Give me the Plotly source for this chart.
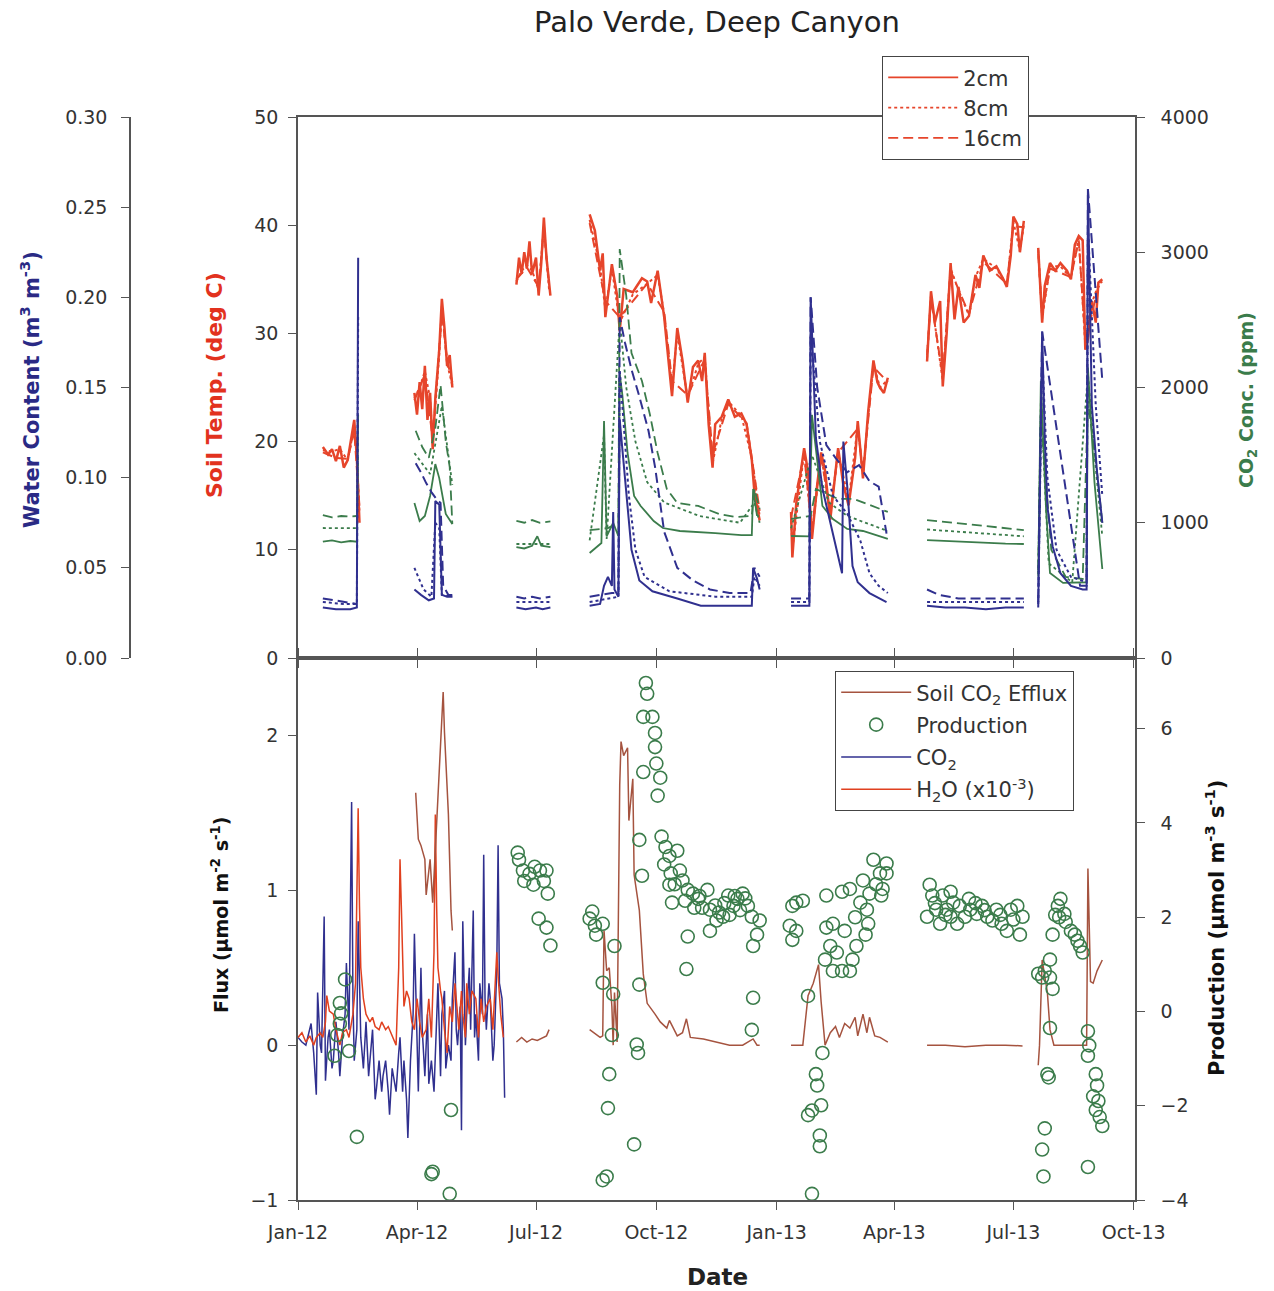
import plotly.graph_objects as go

FONT = "DejaVu Sans, Liberation Sans, Arial, sans-serif"
RED = "#e6452b"
BLUE = "#30308f"
GREEN = "#3b7c4b"
BROWN = "#a5533f"
H2O_RED = "#e0401f"
AXIS = "#555555"
TXT = "#333333"

x_ticks = ["2012-01-01", "2012-04-01", "2012-07-01", "2012-10-01",
           "2013-01-01", "2013-04-01", "2013-07-01", "2013-10-01"]
x_labels = ["Jan-12", "Apr-12", "Jul-12", "Oct-12", "Jan-13", "Apr-13", "Jul-13", "Oct-13"]

# ---------------- Soil temperature (deg C) ----------------
temp_2cm = [
    ("2012-01-20", 19.5), ("2012-01-24", 18.8), ("2012-01-27", 19.3), ("2012-01-30", 18.2), ("2012-02-02", 19.6),
    ("2012-02-05", 17.6), ("2012-02-08", 18.3), ("2012-02-11", 20.6), ("2012-02-13", 22.0), ("2012-02-15", 18.5),
    ("2012-02-16", 14.5), ("2012-02-17", 12.5), (None, None),
    ("2012-03-30", 24.5), ("2012-04-01", 22.5), ("2012-04-03", 25.5), ("2012-04-05", 23.0), ("2012-04-07", 27.0),
    ("2012-04-09", 22.0), ("2012-04-11", 24.5), ("2012-04-13", 19.3), ("2012-04-15", 24.0), ("2012-04-18", 28.5),
    ("2012-04-20", 33.2), ("2012-04-22", 30.5), ("2012-04-24", 27.0), ("2012-04-26", 28.0), ("2012-04-28", 25.0), (None, None),
    ("2012-06-16", 34.5), ("2012-06-18", 37.0), ("2012-06-20", 35.5), ("2012-06-22", 37.5), ("2012-06-24", 36.0),
    ("2012-06-26", 38.5), ("2012-06-28", 35.5), ("2012-07-01", 37.0), ("2012-07-03", 33.5), ("2012-07-05", 36.5),
    ("2012-07-07", 40.7), ("2012-07-09", 37.0), ("2012-07-12", 33.5), (None, None),
    ("2012-08-11", 41.0), ("2012-08-15", 39.5), ("2012-08-19", 35.8), ("2012-08-21", 37.4), ("2012-08-23", 31.5),
    ("2012-08-28", 36.4), ("2012-09-01", 33.5), ("2012-09-03", 30.2), ("2012-09-06", 34.1), ("2012-09-13", 33.8),
    ("2012-09-20", 35.1), ("2012-09-24", 34.8), ("2012-09-27", 32.8), ("2012-10-02", 35.8), ("2012-10-07", 31.5),
    ("2012-10-13", 24.2), ("2012-10-17", 30.5), ("2012-10-21", 27.5), ("2012-10-25", 23.6), ("2012-10-29", 26.9),
    ("2012-11-02", 27.5), ("2012-11-05", 25.6), ("2012-11-07", 28.2), ("2012-11-10", 21.6), ("2012-11-13", 17.6),
    ("2012-11-15", 21.6), ("2012-11-20", 22.3), ("2012-11-25", 23.9), ("2012-11-30", 22.3), ("2012-12-05", 22.6),
    ("2012-12-09", 21.6), ("2012-12-13", 18.3), ("2012-12-15", 15.3), ("2012-12-19", 12.7), (None, None),
    ("2013-01-12", 13.5), ("2013-01-13", 9.3), ("2013-01-16", 14.3), ("2013-01-22", 19.4), ("2013-01-25", 17.2),
    ("2013-01-28", 11.0), ("2013-02-01", 16.0), ("2013-02-04", 19.0), ("2013-02-07", 17.3), ("2013-02-11", 12.8),
    ("2013-02-17", 19.4), ("2013-02-21", 16.0), ("2013-02-25", 14.1), ("2013-03-02", 18.5), ("2013-03-04", 21.9),
    ("2013-03-08", 16.6), ("2013-03-12", 22.8), ("2013-03-16", 27.5), ("2013-03-19", 25.5), ("2013-03-21", 25.0),
    ("2013-03-24", 24.5), ("2013-03-27", 25.9), (None, None),
    ("2013-04-26", 27.4), ("2013-04-29", 33.9), ("2013-05-02", 31.0), ("2013-05-06", 33.0), ("2013-05-08", 25.1),
    ("2013-05-11", 30.0), ("2013-05-14", 36.5), ("2013-05-17", 31.3), ("2013-05-20", 34.3), ("2013-05-24", 31.0),
    ("2013-05-28", 31.6), ("2013-06-02", 35.4), ("2013-06-05", 34.2), ("2013-06-08", 37.2), ("2013-06-13", 35.8),
    ("2013-06-18", 36.2), ("2013-06-23", 35.1), ("2013-06-26", 34.3), ("2013-06-29", 37.2), ("2013-07-01", 40.8),
    ("2013-07-04", 40.1), ("2013-07-06", 37.5), ("2013-07-09", 40.4), (None, None),
    ("2013-07-20", 37.9), ("2013-07-23", 31.0), ("2013-07-25", 34.4), ("2013-07-29", 36.5), ("2013-08-02", 35.8),
    ("2013-08-06", 36.5), ("2013-08-11", 35.8), ("2013-08-14", 35.0), ("2013-08-17", 38.2), ("2013-08-20", 39.0),
    ("2013-08-23", 38.6), ("2013-08-25", 28.5), ("2013-08-27", 29.5), ("2013-08-30", 33.0), ("2013-09-02", 31.0),
    ("2013-09-04", 34.7), ("2013-09-07", 35.0),
]
temp_8cm = [
    ("2012-01-20", 19.2), ("2012-01-27", 19.1), ("2012-02-02", 19.3), ("2012-02-08", 18.3), ("2012-02-13", 21.3),
    ("2012-02-15", 18.6), ("2012-02-17", 13.5), (None, None),
    ("2012-03-30", 24.0), ("2012-04-03", 25.0), ("2012-04-07", 26.5), ("2012-04-11", 24.0), ("2012-04-13", 20.0),
    ("2012-04-18", 28.0), ("2012-04-20", 32.5), ("2012-04-24", 27.2), ("2012-04-28", 25.2), (None, None),
    ("2012-06-16", 34.8), ("2012-06-20", 35.8), ("2012-06-24", 36.3), ("2012-06-28", 35.8), ("2012-07-03", 34.0),
    ("2012-07-07", 40.0), ("2012-07-11", 34.0), (None, None),
    ("2012-08-11", 40.5), ("2012-08-19", 36.2), ("2012-08-23", 32.2), ("2012-08-28", 36.0), ("2012-09-03", 31.0),
    ("2012-09-13", 33.6), ("2012-09-24", 34.6), ("2012-10-02", 35.4), ("2012-10-07", 31.8), ("2012-10-13", 25.0),
    ("2012-10-17", 30.0), ("2012-10-25", 24.0), ("2012-11-02", 27.2), ("2012-11-07", 27.8), ("2012-11-13", 18.0),
    ("2012-11-20", 22.1), ("2012-11-25", 23.7), ("2012-12-05", 22.4), ("2012-12-13", 18.5), ("2012-12-19", 13.1), (None, None),
    ("2013-01-12", 13.2), ("2013-01-13", 10.0), ("2013-01-22", 19.0), ("2013-01-28", 11.5), ("2013-02-04", 18.8),
    ("2013-02-11", 13.2), ("2013-02-17", 19.1), ("2013-02-25", 14.5), ("2013-03-04", 21.5), ("2013-03-08", 16.9),
    ("2013-03-12", 22.4), ("2013-03-16", 27.2), ("2013-03-21", 25.0), ("2013-03-27", 25.7), (None, None),
    ("2013-04-26", 27.7), ("2013-04-29", 33.5), ("2013-05-08", 25.6), ("2013-05-14", 36.0), ("2013-05-20", 34.0),
    ("2013-05-28", 31.7), ("2013-06-02", 35.2), ("2013-06-08", 36.9), ("2013-06-18", 36.0), ("2013-06-26", 34.5),
    ("2013-07-01", 40.3), ("2013-07-06", 37.6), ("2013-07-09", 40.0), (None, None),
    ("2013-07-20", 37.7), ("2013-07-23", 31.4), ("2013-07-29", 36.2), ("2013-08-06", 36.2), ("2013-08-14", 35.1),
    ("2013-08-20", 38.8), ("2013-08-25", 28.9), ("2013-08-30", 32.8), ("2013-09-04", 34.5), ("2013-09-07", 34.8),
]
temp_16cm = [
    ("2012-01-20", 19.0), ("2012-01-30", 18.5), ("2012-02-08", 18.4), ("2012-02-13", 21.0), ("2012-02-17", 14.0), (None, None),
    ("2012-03-30", 23.8), ("2012-04-07", 26.2), ("2012-04-13", 20.2), ("2012-04-20", 32.0), ("2012-04-24", 27.5),
    ("2012-04-28", 25.5), (None, None),
    ("2012-06-16", 35.0), ("2012-06-24", 36.1), ("2012-07-03", 34.3), ("2012-07-07", 39.6), ("2012-07-11", 34.5), (None, None),
    ("2012-08-11", 40.2), ("2012-08-23", 33.0), ("2012-09-03", 31.5), ("2012-09-24", 34.6), ("2012-10-07", 32.0),
    ("2012-10-13", 25.6), ("2012-10-25", 24.3), ("2012-11-07", 27.6), ("2012-11-13", 18.8), ("2012-11-25", 23.5),
    ("2012-12-09", 21.7), ("2012-12-19", 13.6), (None, None),
    ("2013-01-12", 13.0), ("2013-01-22", 18.8), ("2013-01-28", 12.0), ("2013-02-04", 18.6), ("2013-02-11", 13.5),
    ("2013-02-17", 19.0), ("2013-03-04", 21.2), ("2013-03-08", 17.2), ("2013-03-16", 26.9), ("2013-03-27", 25.5), (None, None),
    ("2013-04-26", 28.0), ("2013-04-29", 33.2), ("2013-05-08", 26.0), ("2013-05-14", 35.8), ("2013-05-28", 31.8),
    ("2013-06-08", 36.6), ("2013-06-26", 34.6), ("2013-07-01", 39.9), ("2013-07-09", 39.8), (None, None),
    ("2013-07-20", 37.4), ("2013-07-23", 31.8), ("2013-07-29", 36.0), ("2013-08-14", 35.2), ("2013-08-20", 38.6),
    ("2013-08-25", 29.3), ("2013-09-04", 34.3), ("2013-09-07", 34.6),
]

# ---------------- Water content (m3 m-3) ----------------
wc_2cm = [
    ("2012-01-20", 0.028), ("2012-01-30", 0.027), ("2012-02-10", 0.027), ("2012-02-15", 0.028), ("2012-02-16", 0.222), (None, None),
    ("2012-03-30", 0.038), ("2012-04-04", 0.035), ("2012-04-10", 0.032), ("2012-04-14", 0.033), ("2012-04-15", 0.087),
    ("2012-04-18", 0.085), ("2012-04-20", 0.035), ("2012-04-24", 0.034), ("2012-04-28", 0.034), (None, None),
    ("2012-06-16", 0.028), ("2012-06-23", 0.027), ("2012-07-01", 0.028), ("2012-07-06", 0.027), ("2012-07-12", 0.028), (None, None),
    ("2012-08-11", 0.029), ("2012-08-19", 0.030), ("2012-08-22", 0.040), ("2012-08-25", 0.045), ("2012-08-28", 0.040),
    ("2012-08-29", 0.081), ("2012-08-30", 0.038), ("2012-09-02", 0.034), ("2012-09-03", 0.132), ("2012-09-05", 0.116),
    ("2012-09-09", 0.086), ("2012-09-12", 0.060), ("2012-09-18", 0.043), ("2012-09-28", 0.037), ("2012-10-17", 0.033),
    ("2012-11-04", 0.029), ("2012-12-01", 0.029), ("2012-12-13", 0.029), ("2012-12-14", 0.050), ("2012-12-17", 0.044),
    ("2012-12-19", 0.038), (None, None),
    ("2013-01-12", 0.029), ("2013-01-26", 0.029), ("2013-01-27", 0.200), ("2013-01-31", 0.122), ("2013-02-05", 0.094),
    ("2013-02-13", 0.069), ("2013-02-20", 0.047), ("2013-02-21", 0.120), ("2013-02-24", 0.095), ("2013-02-28", 0.051),
    ("2013-03-04", 0.042), ("2013-03-13", 0.036), ("2013-03-26", 0.031), (None, None),
    ("2013-04-26", 0.029), ("2013-05-10", 0.028), ("2013-05-25", 0.028), ("2013-06-10", 0.027), ("2013-06-25", 0.028),
    ("2013-07-09", 0.028), (None, None),
    ("2013-07-20", 0.028), ("2013-07-23", 0.181), ("2013-07-25", 0.122), ("2013-07-27", 0.084), ("2013-07-31", 0.062),
    ("2013-08-06", 0.047), ("2013-08-14", 0.040), ("2013-08-23", 0.038), ("2013-08-26", 0.038), ("2013-08-27", 0.260),
    ("2013-08-30", 0.140), ("2013-09-03", 0.103), ("2013-09-07", 0.075),
]
wc_8cm = [
    ("2012-01-20", 0.031), ("2012-02-05", 0.030), ("2012-02-15", 0.030), ("2012-02-16", 0.190), (None, None),
    ("2012-03-30", 0.050), ("2012-04-02", 0.045), ("2012-04-06", 0.038), ("2012-04-12", 0.034), ("2012-04-15", 0.075),
    ("2012-04-18", 0.072), ("2012-04-20", 0.035), ("2012-04-28", 0.034), (None, None),
    ("2012-06-16", 0.031), ("2012-07-12", 0.031), (None, None),
    ("2012-08-11", 0.031), ("2012-09-02", 0.034), ("2012-09-03", 0.160), ("2012-09-06", 0.130), ("2012-09-10", 0.090),
    ("2012-09-15", 0.060), ("2012-09-22", 0.045), ("2012-10-11", 0.037), ("2012-11-15", 0.034), ("2012-12-13", 0.034),
    ("2012-12-15", 0.045), ("2012-12-19", 0.040), (None, None),
    ("2013-01-12", 0.031), ("2013-01-26", 0.031), ("2013-01-27", 0.180), ("2013-02-03", 0.120), ("2013-02-13", 0.090),
    ("2013-02-24", 0.080), ("2013-03-06", 0.065), ("2013-03-13", 0.047), ("2013-03-20", 0.040), ("2013-03-27", 0.036), (None, None),
    ("2013-04-26", 0.031), ("2013-07-09", 0.031), (None, None),
    ("2013-07-20", 0.030), ("2013-07-23", 0.170), ("2013-07-27", 0.100), ("2013-08-03", 0.060), ("2013-08-14", 0.045),
    ("2013-08-26", 0.042), ("2013-08-27", 0.240), ("2013-09-02", 0.140), ("2013-09-07", 0.090),
]
wc_16cm = [
    ("2012-01-20", 0.033), ("2012-01-28", 0.032), ("2012-02-06", 0.031), ("2012-02-15", 0.030), (None, None),
    ("2012-03-31", 0.108), ("2012-04-04", 0.103), ("2012-04-08", 0.097), ("2012-04-12", 0.092), ("2012-04-16", 0.088),
    ("2012-04-19", 0.086), ("2012-04-21", 0.040), ("2012-04-25", 0.035), ("2012-04-28", 0.035), (None, None),
    ("2012-06-16", 0.034), ("2012-06-22", 0.033), ("2012-06-28", 0.034), ("2012-07-04", 0.033), ("2012-07-12", 0.034), (None, None),
    ("2012-08-11", 0.034), ("2012-08-28", 0.036), ("2012-09-02", 0.036), ("2012-09-03", 0.189), ("2012-09-07", 0.175),
    ("2012-09-12", 0.160), ("2012-09-18", 0.145), ("2012-09-25", 0.126), ("2012-09-30", 0.106), ("2012-10-07", 0.070),
    ("2012-10-17", 0.050), ("2012-10-29", 0.043), ("2012-11-11", 0.038), ("2012-11-26", 0.036), ("2012-12-12", 0.036),
    ("2012-12-15", 0.050), ("2012-12-19", 0.045), (None, None),
    ("2013-01-12", 0.033), ("2013-01-26", 0.033), ("2013-01-27", 0.200), ("2013-02-01", 0.150), ("2013-02-08", 0.118),
    ("2013-02-15", 0.111), ("2013-02-24", 0.103), ("2013-03-05", 0.107), ("2013-03-13", 0.098), ("2013-03-20", 0.095),
    ("2013-03-26", 0.069), (None, None),
    ("2013-04-26", 0.038), ("2013-05-05", 0.035), ("2013-05-20", 0.033), ("2013-06-10", 0.033), ("2013-06-25", 0.033),
    ("2013-07-09", 0.033), (None, None),
    ("2013-07-20", 0.031), ("2013-07-23", 0.181), ("2013-08-21", 0.040), ("2013-08-26", 0.040), ("2013-08-27", 0.260),
    ("2013-09-07", 0.154),
]

# ---------------- Soil CO2 concentration (ppm) ----------------
co2c_2cm = [
    ("2012-01-20", 860), ("2012-01-27", 870), ("2012-02-03", 855), ("2012-02-10", 865), ("2012-02-15", 860),
    ("2012-02-16", 1800), (None, None),
    ("2012-03-30", 1146), ("2012-04-03", 1013), ("2012-04-07", 1050), ("2012-04-11", 1198), ("2012-04-15", 1434),
    ("2012-04-18", 1330), ("2012-04-23", 1065), ("2012-04-28", 990), (None, None),
    ("2012-06-16", 820), ("2012-06-22", 810), ("2012-06-28", 830), ("2012-07-02", 900), ("2012-07-05", 830),
    ("2012-07-12", 820), (None, None),
    ("2012-08-11", 776), ("2012-08-20", 850), ("2012-08-22", 1752), ("2012-08-24", 900), ("2012-08-29", 1000),
    ("2012-09-02", 900), ("2012-09-03", 2100), ("2012-09-05", 1946), ("2012-09-09", 1516), ("2012-09-14", 1198),
    ("2012-09-19", 1124), ("2012-09-29", 1013), ("2012-10-06", 961), ("2012-10-19", 939), ("2012-11-15", 924),
    ("2012-12-05", 909), ("2012-12-13", 909), ("2012-12-14", 1250), ("2012-12-17", 1050), (None, None),
    ("2013-01-12", 902), ("2013-01-26", 900), ("2013-01-28", 1797), ("2013-02-05", 1124), ("2013-02-13", 1028),
    ("2013-02-24", 954), ("2013-03-08", 939), ("2013-03-27", 880), (None, None),
    ("2013-04-26", 872), ("2013-05-10", 865), ("2013-05-25", 860), ("2013-06-10", 850), ("2013-06-25", 845),
    ("2013-07-09", 843), (None, None),
    ("2013-07-20", 600), ("2013-07-22", 2050), ("2013-07-26", 1100), ("2013-07-29", 628), ("2013-08-08", 555),
    ("2013-08-23", 555), ("2013-08-26", 560), ("2013-08-27", 2150), ("2013-09-01", 1300), ("2013-09-07", 658),
]
co2c_8cm = [
    ("2012-01-20", 961), ("2012-02-15", 960), ("2012-02-16", 1500), (None, None),
    ("2012-03-30", 1515), ("2012-04-11", 1360), ("2012-04-20", 1863), ("2012-04-28", 1280), (None, None),
    ("2012-06-16", 843), ("2012-07-12", 843), (None, None),
    ("2012-08-11", 870), ("2012-08-22", 1650), ("2012-08-24", 880), ("2012-09-03", 2500), ("2012-09-08", 2000),
    ("2012-09-15", 1600), ("2012-09-24", 1300), ("2012-10-07", 1150), ("2012-11-03", 1050), ("2012-12-04", 1000),
    ("2012-12-15", 1150), ("2012-12-19", 1000), (None, None),
    ("2013-01-12", 960), ("2013-01-28", 1500), ("2013-02-10", 1150), ("2013-02-24", 1050), ("2013-03-27", 939), (None, None),
    ("2013-04-26", 950), ("2013-07-09", 900), (None, None),
    ("2013-07-20", 620), ("2013-07-22", 1900), ("2013-07-28", 700), ("2013-08-15", 560), ("2013-08-27", 2100),
    ("2013-09-02", 1400), ("2013-09-07", 900),
]
co2c_16cm = [
    ("2012-01-20", 1057), ("2012-01-27", 1040), ("2012-02-03", 1050), ("2012-02-10", 1045), ("2012-02-15", 1050), (None, None),
    ("2012-03-31", 1680), ("2012-04-05", 1560), ("2012-04-10", 1480), ("2012-04-15", 1700), ("2012-04-19", 2018),
    ("2012-04-23", 1600), ("2012-04-26", 1412), ("2012-04-28", 990), (None, None),
    ("2012-06-16", 1013), ("2012-06-22", 1000), ("2012-06-28", 1020), ("2012-07-04", 1000), ("2012-07-12", 1010), (None, None),
    ("2012-08-11", 946), ("2012-08-25", 960), ("2012-09-02", 1000), ("2012-09-03", 3024), ("2012-09-08", 2677),
    ("2012-09-12", 2255), ("2012-09-20", 2048), ("2012-09-26", 1804), ("2012-10-02", 1516), ("2012-10-09", 1250),
    ("2012-10-17", 1146), ("2012-11-02", 1124), ("2012-11-18", 1065), ("2012-12-01", 1042), ("2012-12-13", 1050),
    ("2012-12-15", 1250), ("2012-12-19", 1100), (None, None),
    ("2013-01-12", 1028), ("2013-01-27", 1050), ("2013-01-31", 1250), ("2013-02-17", 1176), ("2013-03-01", 1176),
    ("2013-03-13", 1130), ("2013-03-27", 1080), (None, None),
    ("2013-04-26", 1020), ("2013-05-15", 1000), ("2013-06-05", 980), ("2013-06-25", 960), ("2013-07-09", 946), (None, None),
    ("2013-07-20", 650), ("2013-07-22", 1800), ("2013-07-30", 800), ("2013-08-10", 600), ("2013-08-23", 584),
    ("2013-08-27", 1900), ("2013-09-03", 1375), ("2013-09-07", 1000),
]

# ---------------- Bottom panel: fluxes (umol m-2 s-1) ----------------
co2_flux = [
    ("2012-01-01", 0.05), ("2012-01-04", 0.02), ("2012-01-07", 0.0), ("2012-01-09", 0.08), ("2012-01-11", 0.14),
    ("2012-01-13", -0.05), ("2012-01-15", -0.32), ("2012-01-16", 0.34), ("2012-01-18", 0.0), ("2012-01-19", -0.05),
    ("2012-01-21", 0.83), ("2012-01-22", -0.23), ("2012-01-24", 0.05), ("2012-01-25", 0.1), ("2012-01-27", -0.15),
    ("2012-01-28", -0.1), ("2012-01-30", 0.15), ("2012-02-01", -0.05), ("2012-02-02", -0.2), ("2012-02-04", 0.05),
    ("2012-02-06", 0.2), ("2012-02-07", 0.53), ("2012-02-09", 0.1), ("2012-02-11", 1.57), ("2012-02-12", 0.3),
    ("2012-02-13", -0.1), ("2012-02-15", 0.1), ("2012-02-16", 0.8), ("2012-02-18", 0.05), ("2012-02-20", -0.15),
    ("2012-02-22", 0.15), ("2012-02-24", -0.2), ("2012-02-25", -0.1), ("2012-02-27", 0.1), ("2012-02-29", -0.35),
    ("2012-03-01", -0.28), ("2012-03-03", -0.1), ("2012-03-05", -0.3), ("2012-03-06", -0.2), ("2012-03-08", -0.1),
    ("2012-03-10", -0.3), ("2012-03-11", -0.45), ("2012-03-13", -0.15), ("2012-03-14", -0.2), ("2012-03-16", -0.3),
    ("2012-03-18", -0.05), ("2012-03-19", 0.05), ("2012-03-21", -0.3), ("2012-03-22", -0.1), ("2012-03-24", -0.35),
    ("2012-03-25", -0.6), ("2012-03-27", -0.1), ("2012-03-29", 0.2), ("2012-03-30", 0.72), ("2012-04-01", 0.0),
    ("2012-04-02", -0.3), ("2012-04-04", 0.5), ("2012-04-05", 0.1), ("2012-04-07", -0.2), ("2012-04-09", 0.2),
    ("2012-04-10", -0.25), ("2012-04-12", -0.1), ("2012-04-14", -0.3), ("2012-04-16", 0.1), ("2012-04-17", 0.4),
    ("2012-04-19", -0.2), ("2012-04-20", 0.2), ("2012-04-22", 0.35), ("2012-04-23", -0.15), ("2012-04-25", 0.0),
    ("2012-04-27", -0.1), ("2012-04-28", 0.3), ("2012-04-30", 0.6), ("2012-05-01", 0.1), ("2012-05-02", 0.0),
    ("2012-05-04", 0.25), ("2012-05-05", -0.55), ("2012-05-06", 0.8), ("2012-05-08", 0.0), ("2012-05-09", 0.2),
    ("2012-05-11", 0.5), ("2012-05-12", 0.1), ("2012-05-14", 0.87), ("2012-05-15", 0.05), ("2012-05-16", 0.2),
    ("2012-05-18", -0.1), ("2012-05-19", 0.4), ("2012-05-21", 0.2), ("2012-05-22", 1.23), ("2012-05-23", 0.3),
    ("2012-05-24", 0.1), ("2012-05-26", 0.4), ("2012-05-27", 0.3), ("2012-05-29", -0.1), ("2012-05-30", 0.0),
    ("2012-06-01", 0.5), ("2012-06-02", 1.29), ("2012-06-03", 0.4), ("2012-06-05", 0.3), ("2012-06-06", 0.1),
    ("2012-06-07", -0.34),
]
h2o_flux = [
    ("2012-01-01", 0.05), ("2012-01-04", 0.08), ("2012-01-07", 0.02), ("2012-01-10", 0.06), ("2012-01-13", 0.0),
    ("2012-01-15", 0.05), ("2012-01-18", 0.08), ("2012-01-20", 0.05), ("2012-01-22", 0.15), ("2012-01-23", 0.32),
    ("2012-01-25", 0.22), ("2012-01-28", 0.2), ("2012-01-30", 0.1), ("2012-02-02", 0.0), ("2012-02-04", 0.08),
    ("2012-02-07", 0.1), ("2012-02-09", 0.05), ("2012-02-12", 0.2), ("2012-02-14", 0.4), ("2012-02-15", 0.9),
    ("2012-02-16", 1.53), ("2012-02-17", 0.9), ("2012-02-18", 0.5), ("2012-02-20", 0.3), ("2012-02-22", 0.2),
    ("2012-02-25", 0.15), ("2012-02-27", 0.18), ("2012-02-29", 0.12), ("2012-03-03", 0.1), ("2012-03-05", 0.15),
    ("2012-03-08", 0.1), ("2012-03-10", 0.12), ("2012-03-12", 0.08), ("2012-03-14", 0.05), ("2012-03-16", 0.0),
    ("2012-03-18", 0.5), ("2012-03-19", 1.2), ("2012-03-20", 0.9), ("2012-03-22", 0.25), ("2012-03-24", 0.35),
    ("2012-03-26", 0.3), ("2012-03-28", 0.15), ("2012-03-30", 0.1), ("2012-04-01", 0.3), ("2012-04-03", 0.15),
    ("2012-04-05", 0.05), ("2012-04-08", 0.1), ("2012-04-10", 0.3), ("2012-04-12", 0.05), ("2012-04-14", 0.6),
    ("2012-04-15", 1.49), ("2012-04-16", 0.9), ("2012-04-17", 0.5), ("2012-04-19", 0.35), ("2012-04-20", 0.3),
    ("2012-04-22", 0.1), ("2012-04-24", -0.05), ("2012-04-26", 0.25), ("2012-04-28", 0.15), ("2012-04-30", 0.4),
    ("2012-05-01", 0.3), ("2012-05-03", 0.1), ("2012-05-05", 0.35), ("2012-05-06", 0.2), ("2012-05-08", 0.05),
    ("2012-05-09", 0.4), ("2012-05-11", 0.2), ("2012-05-13", 0.35), ("2012-05-16", 0.3), ("2012-05-18", 0.05),
    ("2012-05-20", 0.3), ("2012-05-22", 0.15), ("2012-05-24", 0.25), ("2012-05-27", 0.3), ("2012-05-29", 0.1),
    ("2012-06-01", 0.6), ("2012-06-02", 0.45), ("2012-06-04", 0.2), ("2012-06-06", 0.05),
]
soil_efflux = [
    ("2012-03-31", 1.63), ("2012-04-02", 1.33), ("2012-04-04", 1.29), ("2012-04-07", 1.2), ("2012-04-08", 0.97),
    ("2012-04-11", 1.2), ("2012-04-13", 0.92), ("2012-04-16", 1.45), ("2012-04-18", 1.79), ("2012-04-21", 2.28),
    ("2012-04-22", 2.02), ("2012-04-25", 1.49), ("2012-04-27", 0.87), ("2012-04-28", 0.74), (None, None),
    ("2012-06-16", 0.02), ("2012-06-20", 0.05), ("2012-06-24", 0.02), ("2012-06-28", 0.04), ("2012-07-02", 0.03),
    ("2012-07-06", 0.05), ("2012-07-09", 0.06), ("2012-07-11", 0.1), (None, None),
    ("2012-08-11", 0.1), ("2012-08-19", 0.05), ("2012-08-21", 0.06), ("2012-08-22", 0.74), ("2012-08-24", 0.48),
    ("2012-08-26", 0.5), ("2012-08-28", 0.25), ("2012-08-29", 0.0), ("2012-08-30", 0.34), ("2012-09-01", 0.02),
    ("2012-09-03", 1.68), ("2012-09-04", 1.96), ("2012-09-06", 1.87), ("2012-09-09", 1.92), ("2012-09-10", 1.45),
    ("2012-09-13", 1.72), ("2012-09-14", 1.1), ("2012-09-18", 0.87), ("2012-09-21", 0.46), ("2012-09-24", 0.27),
    ("2012-09-30", 0.2), ("2012-10-04", 0.15), ("2012-10-09", 0.11), ("2012-10-11", 0.16), ("2012-10-17", 0.06),
    ("2012-10-21", 0.08), ("2012-10-24", 0.17), ("2012-10-27", 0.05), ("2012-11-06", 0.04), ("2012-11-16", 0.02),
    ("2012-11-26", 0.0), ("2012-12-06", 0.0), ("2012-12-14", 0.04), ("2012-12-17", 0.0), ("2012-12-19", 0.0), (None, None),
    ("2013-01-12", 0.0), ("2013-01-21", 0.0), ("2013-01-25", 0.32), ("2013-01-29", 0.4), ("2013-02-02", 0.52),
    ("2013-02-04", 0.28), ("2013-02-07", 0.0), ("2013-02-11", 0.08), ("2013-02-15", 0.12), ("2013-02-18", 0.05),
    ("2013-02-22", 0.14), ("2013-02-26", 0.11), ("2013-03-02", 0.18), ("2013-03-04", 0.06), ("2013-03-08", 0.2),
    ("2013-03-11", 0.08), ("2013-03-13", 0.18), ("2013-03-17", 0.06), ("2013-03-21", 0.05), ("2013-03-27", 0.02), (None, None),
    ("2013-04-26", 0.0), ("2013-05-10", 0.0), ("2013-05-25", -0.01), ("2013-06-10", 0.0), ("2013-06-25", 0.0),
    ("2013-07-08", -0.005), (None, None),
    ("2013-07-20", -0.13), ("2013-07-21", 0.0), ("2013-07-23", 0.55), ("2013-07-27", 0.34), ("2013-07-29", 0.1),
    ("2013-08-01", 0.0), ("2013-08-12", 0.0), ("2013-08-26", 0.0), ("2013-08-27", 1.14), ("2013-08-29", 0.41),
    ("2013-08-31", 0.40), ("2013-09-03", 0.48), ("2013-09-07", 0.55),
]

# ---------------- CO2 production (umol m-3 s-1) ----------------
production = [
    ("2012-02-06", 0.68), ("2012-02-02", 0.18), ("2012-02-03", -0.04), ("2012-02-02", -0.26), ("2012-01-31", -0.5),
    ("2012-01-29", -0.94), ("2012-02-09", -0.84), ("2012-02-15", -2.66), ("2012-04-12", -3.45), ("2012-04-13", -3.4),
    ("2012-04-26", -3.87), ("2012-04-27", -2.09),
    ("2012-06-17", 3.37), ("2012-06-18", 3.22), ("2012-06-21", 2.99), ("2012-06-26", 2.92), ("2012-06-22", 2.77),
    ("2012-06-30", 3.07), ("2012-07-04", 2.99), ("2012-07-09", 2.99), ("2012-07-07", 2.77), ("2012-06-29", 2.69),
    ("2012-07-10", 2.5), ("2012-07-03", 1.97), ("2012-07-09", 1.78), ("2012-07-12", 1.4),
    ("2012-08-13", 2.12), ("2012-08-11", 1.97), ("2012-08-15", 1.82), ("2012-08-21", 1.86), ("2012-08-16", 1.63),
    ("2012-08-30", 1.39), ("2012-08-21", 0.61), ("2012-08-29", 0.37), ("2012-08-28", -0.5), ("2012-08-26", -1.33),
    ("2012-08-25", -2.05), ("2012-08-21", -3.58), ("2012-08-24", -3.5), ("2012-09-18", 3.64), ("2012-09-20", 2.88),
    ("2012-09-18", 0.57), ("2012-09-16", -0.7), ("2012-09-17", -0.88), ("2012-09-14", -2.82), ("2012-09-23", 6.97),
    ("2012-09-24", 6.74), ("2012-09-21", 6.25), ("2012-09-28", 6.25), ("2012-09-30", 5.91), ("2012-09-30", 5.61),
    ("2012-09-21", 5.08), ("2012-10-01", 5.26), ("2012-10-04", 4.96), ("2012-10-02", 4.58), ("2012-10-05", 3.71),
    ("2012-10-08", 3.49), ("2012-10-11", 3.3), ("2012-10-17", 3.41), ("2012-10-07", 3.12), ("2012-10-12", 2.93),
    ("2012-10-19", 2.99), ("2012-10-21", 2.78), ("2012-10-11", 2.69), ("2012-10-13", 2.31), ("2012-10-25", 2.58),
    ("2012-10-29", 2.5), ("2012-11-02", 2.39), ("2012-11-09", 2.58), ("2012-11-05", 2.2), ("2012-11-11", 2.16),
    ("2012-11-11", 1.71), ("2012-11-16", 1.93), ("2012-11-21", 2.01), ("2012-11-25", 2.46), ("2012-11-29", 2.24),
    ("2012-12-02", 2.39), ("2012-12-06", 2.5), ("2012-12-10", 2.24), ("2012-12-13", 2.01), ("2012-12-19", 1.93),
    ("2012-12-17", 1.63), ("2012-12-14", 1.39), ("2012-10-25", 1.59), ("2012-10-24", 0.9), ("2012-12-14", 0.29),
    ("2012-12-13", -0.39), ("2012-10-15", 2.7), ("2012-10-23", 2.35), ("2012-10-30", 2.2), ("2012-11-03", 2.45),
    ("2012-11-15", 2.25), ("2012-11-18", 2.1), ("2012-11-22", 2.3), ("2012-11-26", 2.05), ("2012-11-30", 2.45),
    ("2012-12-04", 2.15), ("2012-12-08", 2.4),
    ("2013-01-13", 2.24), ("2013-01-16", 2.31), ("2013-01-21", 2.35), ("2013-01-11", 1.82), ("2013-01-16", 1.71),
    ("2013-01-13", 1.52), ("2013-01-25", 0.33), ("2013-02-05", -0.88), ("2013-01-31", -1.33), ("2013-02-01", -1.57),
    ("2013-01-25", -2.2), ("2013-01-28", -2.1), ("2013-02-04", -1.99), ("2013-02-03", -2.63), ("2013-02-03", -2.86),
    ("2013-01-28", -3.87), ("2013-02-08", 2.46), ("2013-02-20", 2.54), ("2013-02-08", 1.78), ("2013-02-13", 1.86),
    ("2013-02-11", 1.39), ("2013-02-16", 1.25), ("2013-02-07", 1.1), ("2013-02-13", 0.86), ("2013-02-20", 0.86),
    ("2013-02-22", 1.71), ("2013-02-26", 2.6), ("2013-03-02", 2.0), ("2013-03-03", 1.39), ("2013-02-28", 1.1),
    ("2013-02-26", 0.86), ("2013-03-06", 2.31), ("2013-03-08", 2.78), ("2013-03-11", 2.16), ("2013-03-12", 1.86),
    ("2013-03-10", 1.63), ("2013-03-16", 3.22), ("2013-03-21", 2.93), ("2013-03-23", 2.6), ("2013-03-26", 2.93),
    ("2013-03-22", 2.46), ("2013-03-26", 3.14), ("2013-03-18", 2.7), ("2013-03-13", 2.5),
    ("2013-04-28", 2.69), ("2013-04-30", 2.46), ("2013-04-26", 2.01), ("2013-05-03", 2.16), ("2013-05-08", 2.46),
    ("2013-05-11", 2.16), ("2013-05-14", 2.01), ("2013-05-16", 2.31), ("2013-05-21", 2.24), ("2013-05-25", 2.01),
    ("2013-05-29", 2.16), ("2013-06-03", 2.07), ("2013-06-07", 2.24), ("2013-06-11", 2.01), ("2013-06-15", 1.93),
    ("2013-06-18", 2.16), ("2013-06-22", 1.86), ("2013-06-26", 1.71), ("2013-06-29", 2.16), ("2013-07-04", 2.24),
    ("2013-07-08", 2.01), ("2013-07-06", 1.63), ("2013-05-06", 1.86), ("2013-05-19", 1.86), ("2013-05-14", 2.54),
    ("2013-05-28", 2.39), ("2013-05-02", 2.3), ("2013-05-10", 2.05), ("2013-06-02", 2.3), ("2013-06-09", 2.15),
    ("2013-06-21", 2.05), ("2013-07-01", 1.95),
    ("2013-07-23", 0.72), ("2013-07-20", 0.8), ("2013-07-25", 0.86), ("2013-07-29", 1.1), ("2013-07-29", 0.72),
    ("2013-07-31", 0.48), ("2013-07-29", -0.35), ("2013-07-27", -1.33), ("2013-07-28", -1.4), ("2013-07-25", -2.48),
    ("2013-07-23", -2.93), ("2013-07-24", -3.5), ("2013-07-31", 1.63), ("2013-08-04", 2.24), ("2013-08-06", 2.39),
    ("2013-08-05", 2.0), ("2013-08-09", 2.07), ("2013-08-10", 1.9), ("2013-08-14", 1.71), ("2013-08-17", 1.63),
    ("2013-08-19", 1.5), ("2013-08-21", 1.39), ("2013-08-23", 1.25), ("2013-08-02", 2.05), ("2013-08-27", -0.42),
    ("2013-08-28", -0.72), ("2013-08-27", -0.94), ("2013-09-02", -1.33), ("2013-09-03", -1.57), ("2013-08-31", -1.8),
    ("2013-09-04", -1.9), ("2013-09-02", -2.09), ("2013-09-05", -2.24), ("2013-09-07", -2.43), ("2013-08-27", -3.3),
]


def cols(rows):
    return [r[0] for r in rows], [r[1] for r in rows]


fig = go.Figure()

DASH = "10px,5px"

# top panel: CO2 concentration (green) on y2
for rows, dash in [(co2c_2cm, "solid"), (co2c_8cm, "dot"), (co2c_16cm, DASH)]:
    xs, ys = cols(rows)
    fig.add_trace(go.Scatter(x=xs, y=ys, mode="lines", xaxis="x", yaxis="y2", showlegend=False,
                             line=dict(color=GREEN, width=1.8, dash=dash), connectgaps=False))
# water content (blue) on y3
for rows, dash in [(wc_2cm, "solid"), (wc_8cm, "dot"), (wc_16cm, DASH)]:
    xs, ys = cols(rows)
    fig.add_trace(go.Scatter(x=xs, y=ys, mode="lines", xaxis="x", yaxis="y3", showlegend=False,
                             line=dict(color=BLUE, width=2, dash=dash), connectgaps=False))
# soil temperature (red) on y
for rows, dash, wd in [(temp_16cm, DASH, 2), (temp_8cm, "dot", 2), (temp_2cm, "solid", 2.5)]:
    xs, ys = cols(rows)
    fig.add_trace(go.Scatter(x=xs, y=ys, mode="lines", xaxis="x", yaxis="y", showlegend=False,
                             line=dict(color=RED, width=wd, dash=dash), connectgaps=False))

# legend entries for depths
for name, dash in [("2cm", "solid"), ("8cm", "dot"), ("16cm", DASH)]:
    fig.add_trace(go.Scatter(x=[None], y=[None], mode="lines", xaxis="x", yaxis="y", name=name,
                             legend="legend", legendgroup=name,
                             line=dict(color=RED, width=1.8, dash=dash)))

# bottom panel
eff_x, eff_y = cols(soil_efflux)
xs, ys = cols(co2_flux)
fig.add_trace(go.Scatter(x=xs, y=ys, mode="lines", xaxis="x2", yaxis="y4", name="CO<sub>2</sub>",
                         legend="legend2", legendgroup="c", legendrank=3,
                         line=dict(color=BLUE, width=1.5)))
xs, ys = cols(h2o_flux)
fig.add_trace(go.Scatter(x=xs, y=ys, mode="lines", xaxis="x2", yaxis="y4",
                         name="H<sub>2</sub>O (x10<sup>-3</sup>)",
                         legend="legend2", legendgroup="d", legendrank=4,
                         line=dict(color=H2O_RED, width=1.5)))
fig.add_trace(go.Scatter(x=eff_x, y=eff_y, mode="lines", xaxis="x2", yaxis="y4", name="Soil CO<sub>2</sub> Efflux",
                         legend="legend2", legendgroup="a", legendrank=1, connectgaps=False,
                         line=dict(color=BROWN, width=1.5)))
xs, ys = cols(production)
fig.add_trace(go.Scatter(x=xs, y=ys, mode="markers", xaxis="x2", yaxis="y5", name="Production",
                         legend="legend2", legendgroup="b", legendrank=2,
                         marker=dict(symbol="circle-open", size=13, color=GREEN, line=dict(width=1.6, color=GREEN))))

W, H = 1274, 1291
XL, XR = 298 / W, 1135 / W
YMID = (1200 - 658) / 1083
X_RANGE = ["2012-01-01", "2013-10-02"]
tickfont = dict(family=FONT, size=19, color=TXT)

common_x = dict(type="date", range=X_RANGE, domain=[XL, XR], tickvals=x_ticks, ticktext=x_labels,
                showgrid=False, zeroline=False, showline=True, linecolor=AXIS, linewidth=1.5,
                ticks="outside", ticklen=8, tickwidth=1.2, tickcolor=AXIS, tickfont=tickfont,
                automargin=False, ticklabelstandoff=6)
common_y = dict(showgrid=False, zeroline=False, showline=True, linecolor=AXIS, linewidth=1.5,
                ticks="outside", ticklen=8, tickwidth=1.2, tickcolor=AXIS, tickfont=tickfont,
                automargin=False)

fig.update_layout(
    template="none",
    width=W, height=H, autosize=False,
    margin=dict(l=0, r=0, t=117, b=91, pad=0),
    paper_bgcolor="white", plot_bgcolor="white",
    font=dict(family=FONT, color=TXT),
    title=dict(text="Palo Verde, Deep Canyon", x=717 / W, xanchor="center", y=1 - 22 / H, yanchor="middle",
               xref="paper", yref="container", font=dict(family=FONT, size=29, color="#222222")),
    xaxis=dict(common_x, anchor="y", mirror=True, showticklabels=False),
    xaxis2=dict(common_x, anchor="y4", mirror="ticks", showticklabels=True),
    yaxis=dict(common_y, domain=[YMID, 1], anchor="x", range=[0, 50], tickvals=[0, 10, 20, 30, 40, 50],
               ticklabelstandoff=6),
    yaxis2=dict(common_y, overlaying="y", side="right", anchor="x", range=[0, 4000],
                tickvals=[0, 1000, 2000, 3000, 4000], ticklabelstandoff=12),
    yaxis3=dict(common_y, overlaying="y", side="left", anchor="free", position=130 / W, range=[0, 0.30],
                tickvals=[0, 0.05, 0.10, 0.15, 0.20, 0.25, 0.30], tickformat=".2f", ticklabelstandoff=10),
    yaxis4=dict(common_y, domain=[0, YMID], anchor="x2", range=[-1, 2.5], tickvals=[-1, 0, 1, 2],
                ticklabelstandoff=6),
    yaxis5=dict(common_y, overlaying="y4", side="right", anchor="x2", range=[-4, 7.5],
                tickvals=[-4, -2, 0, 2, 4, 6], ticklabelstandoff=12),
    legend=dict(x=882 / W, y=(1200 - 56) / 1083, xanchor="left", yanchor="top", bgcolor="white",
                bordercolor="#444444", borderwidth=1.2, font=dict(family=FONT, size=21, color=TXT),
                tracegroupgap=0, itemwidth=70),
    legend2=dict(x=835 / W, y=(1200 - 671) / 1083, xanchor="left", yanchor="top", bgcolor="white",
                 bordercolor="#444444", borderwidth=1.2, font=dict(family=FONT, size=21, color=TXT),
                 tracegroupgap=2, itemwidth=70, traceorder="grouped"),
    showlegend=True,
)

def ann(text, px, py, color, size=20, angle=-90):
    fig.add_annotation(text=text, x=px / W, y=(1200 - py) / 1083, xref="paper", yref="paper",
                       showarrow=False, textangle=angle, xanchor="center", yanchor="middle",
                       font=dict(family=FONT, size=size, color=color))

ann("<b>Water Content (m<sup>3</sup> m<sup>-3</sup>)</b>", 30, 390, "#2a2a85", size=21)
ann("<b>Soil Temp. (deg C)</b>", 215, 385, "#e2321e", size=22)
ann("<b>CO<sub>2</sub> Conc. (ppm)</b>", 1248, 400, "#3b7c4b", size=19)
ann("<b>Flux (µmol m<sup>-2</sup> s<sup>-1</sup>)</b>", 220, 915, "#111111", size=19)
ann("<b>Production (µmol m<sup>-3</sup> s<sup>-1</sup>)</b>", 1215, 928, "#111111", size=21)
ann("<b>Date</b>", 717, 1277, "#222222", size=23, angle=0)

fig.write_html("out.html")
